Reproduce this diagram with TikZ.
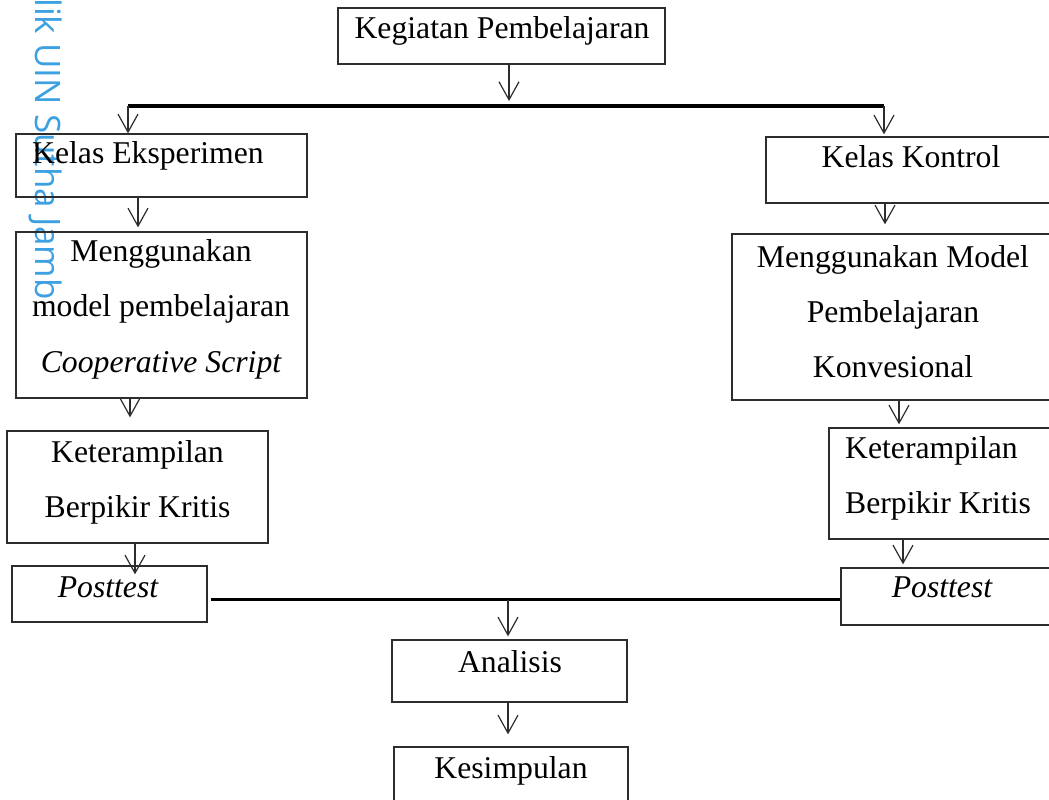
\documentclass[tikz,border=0pt]{standalone}
\usepackage{fontspec}
\setmainfont{Liberation Serif}
\newfontfamily\wmfont{Open Sans}
\usetikzlibrary{arrows.meta}
\definecolor{wmblue}{RGB}{60,160,225}
\definecolor{lineg}{RGB}{45,45,45}
\begin{document}
\begin{tikzpicture}[x=1pt,y=-1pt,
  box/.style={draw=lineg, line width=1.3pt, inner sep=0pt},
  txt/.style={anchor=base, inner sep=0pt, font=\fontsize{31.7}{38}\selectfont},
  txtl/.style={txt, anchor=base west},
  arr/.style={draw=lineg, line width=1.2pt, -{Straight Barb[length=18pt,width=20pt,line width=1.2pt]}},
  bus/.style={draw=black, line width=3.2pt},
  busb/.style={draw=black, line width=2.3pt}]
\useasboundingbox (0,0) rectangle (1049,800);
% watermark
\node[rotate=-90, anchor=base west, inner sep=0pt, text=wmblue, font=\wmfont\fontsize{35}{35}\selectfont] (wm) at (35,-2) {lik UIN Sutha Jamb};
% boxes
\node[box, minimum width=327pt, minimum height=56pt] (top) at (501.5,36) {};
\node[box, minimum width=291pt, minimum height=63pt] (KE) at (161.5,165.5) {};
\node[box, minimum width=291pt, minimum height=166pt] (ML) at (161.5,315) {};
\node[box, minimum width=261pt, minimum height=112pt] (KL) at (137.5,487) {};
\node[box, minimum width=195pt, minimum height=56pt] (PL) at (109.5,594) {};
\node[box, minimum width=290pt, minimum height=66pt] (KK) at (911,170) {};
\node[box, minimum width=321pt, minimum height=166pt] (MR) at (892.5,317) {};
\node[box, minimum width=241pt, minimum height=111pt] (KR) at (949.5,483.5) {};
\node[box, minimum width=229pt, minimum height=57pt] (PR) at (955.5,596.5) {};
\node[box, minimum width=235pt, minimum height=62pt] (AN) at (509.5,671) {};
\node[box, minimum width=234pt, minimum height=63pt] (KS) at (511,778.5) {};
% texts
\node[txt] (tTop) at (502,38) {Kegiatan Pembelajaran};
\node[txtl] (tKE) at (32,163) {Kelas Eksperimen};
\node[txt] (tML1) at (161,261) {Menggunakan};
\node[txt] (tML2) at (161,316) {model pembelajaran};
\node[txt] (tML3) at (161,372) {\itshape Cooperative Script};
\node[txt] (tKL1) at (137.5,462) {Keterampilan};
\node[txt] (tKL2) at (137.5,517) {Berpikir Kritis};
\node[txt] (tPL) at (108,597) {\itshape Posttest};
\node[txt] (tKK) at (911,167) {Kelas Kontrol};
\node[txt] (tMR1) at (893,267) {Menggunakan Model};
\node[txt] (tMR2) at (893,322) {Pembelajaran};
\node[txt] (tMR3) at (893,377) {Konvesional};
\node[txtl] (tKR1) at (845,458) {Keterampilan};
\node[txtl] (tKR2) at (845,513) {Berpikir Kritis};
\node[txt] (tPR) at (942,597) {\itshape Posttest};
\node[txt] (tAN) at (510,672) {Analisis};
\node[txt] (tKS) at (511,778) {Kesimpulan};
% connector coordinates
\coordinate (jT) at (509,106);
\coordinate (jL) at (128,106);
\coordinate (jR) at (884,106);
\coordinate (xa1) at (138,0);
\coordinate (xa2) at (130,0);
\coordinate (xa3) at (135,0);
\coordinate (xb1) at (885,0);
\coordinate (xb2) at (899,0);
\coordinate (xb3) at (903,0);
\coordinate (bL) at (211,599.5);
\coordinate (bM) at (508,599.5);
% connectors
\draw[bus] (jL) -- (jR);
\draw[arr, shorten >=5pt] (top.south -| jT) -- (jT);
\draw[arr] (jL) -- (KE.north -| jL);
\draw[arr, shorten >=2pt] (jR) -- (KK.north -| jR);
\draw[arr, shorten >=4pt] (KE.south -| xa1) -- (ML.north -| xa1);
\draw[arr, shorten >=13pt] (ML.south -| xa2) -- (KL.north -| xa2);
\draw[arr, shorten >=-9pt] (KL.south -| xa3) -- (PL.north -| xa3);
\draw[arr, shorten >=9pt] (KK.south -| xb1) -- (MR.north -| xb1);
\draw[arr, shorten >=3pt] (MR.south -| xb2) -- (KR.north -| xb2);
\draw[arr, shorten >=3pt] (KR.south -| xb3) -- (PR.north -| xb3);
\draw[busb] (bL) -- (PR.west |- bL);
\draw[arr, shorten >=3pt] (bM) -- (AN.north -| bM);
\draw[arr, shorten >=12pt] (AN.south -| bM) -- (KS.north -| bM);
\end{tikzpicture}
\end{document}
